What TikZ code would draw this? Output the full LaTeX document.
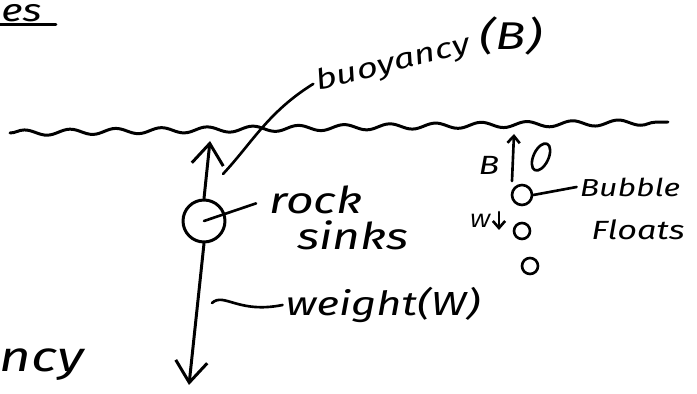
\documentclass[tikz,border=0pt]{standalone}
\usepackage{fontspec}
\setmainfont{Fira Sans}[FakeStretch=1.3]
\usetikzlibrary{arrows.meta,decorations.pathmorphing,shapes.geometric}

\begin{document}
\begin{tikzpicture}[
        x=0.02cm, y=-0.02cm,
        line width=1.7pt, line cap=round, line join=round,
        hand/.style={font=\fontsize{#1}{#1}\selectfont\itshape, inner sep=1pt},
        hand/.default=20,
        force/.style={-{Straight Barb[length=12pt,width=18pt]}},
        smallforce/.style={-{Straight Barb[length=4pt,width=7pt]}, line width=1.5pt},
        leader/.style={line width=1.5pt},
        bubble/.style={draw, circle, inner sep=0pt, line width=1.5pt}
    ]
    \useasboundingbox (0,0) rectangle (697,394);

    % Heading (cut off at the edge)
    \node[hand=18, anchor=base west, inner sep=0pt] (heading) at (0,22) {es};
    \draw (heading.base west) ++(0,3) coordinate (ulA) -- (56,25) coordinate (ulB);

    % Water surface
    \draw[decorate, decoration={snake, amplitude=1.6pt, segment length=26pt}]
        (10,133) -- (668,122);

    % Rock
    \node[draw, circle, minimum size=0.84cm, inner sep=0pt] (rock) at (204,221) {};
    \coordinate (rockB) at (210,141);
    \coordinate (rockW) at (189,385);
    \draw[force] (rock.north) -- (rockB);
    \draw[force] (rock.south) -- (rockW);

    \node[hand=21] (rocklbl) at (316,200) {rock};
    \node[hand=21] (sinkslbl) at (353,235) {sinks};
    \draw[leader, shorten >=6pt] (rock.center) -- (rocklbl.west);

    % Weight label
    \node[hand=19] (weightlbl) at (383,305) {weight(W)};
    \coordinate (wlead) at (212,303);
    \draw[leader] (wlead) .. controls (224,292) and (238,314) .. (weightlbl.west);

    % Buoyancy label
    \node[hand=16, rotate=14] (buoylbl) at (393,64) {buoyancy};
    \node[hand=22] (buoyB) at (511,36) {(B)};
    \coordinate (blead) at (223,174);
    \draw[leader] (blead) .. controls (252,143) and (268,112) .. (buoylbl.west);

    % Bubbles
    \node[draw, ellipse, rotate=-25, minimum width=0.3cm, minimum height=0.58cm,
          inner sep=0pt, line width=1.5pt] (bub1) at (541,157) {};
    \node[bubble, minimum size=0.4cm] (bub2) at (522,195) {};
    \node[bubble, minimum size=0.32cm] (bub3) at (522,231) {};
    \node[bubble, minimum size=0.32cm] (bub4) at (530,266) {};

    \coordinate (bubB0) at (512,181);
    \coordinate (bubB1) at (514,134);
    \draw[smallforce] (bubB0) -- (bubB1);
    \node[hand=15] (bubBlbl) at (489,165) {B};

    \coordinate (bubW0) at (499,212);
    \coordinate (bubW1) at (499,230);
    \draw[smallforce] (bubW0) -- (bubW1);
    \node[hand=11] (bubWlbl) at (480,221) {W};

    \node[hand=14] (bublbl) at (630,187) {Bubble};
    \node[hand=15] (floatlbl) at (638,230) {Floats};
    \draw[leader] (bub2.east) -- (bublbl.west);

    % Cut-off word, bottom left
    \node[hand=24, anchor=base west, inner sep=0pt] (cutlbl) at (-2,372) {ncy};

\end{tikzpicture}
\end{document}
